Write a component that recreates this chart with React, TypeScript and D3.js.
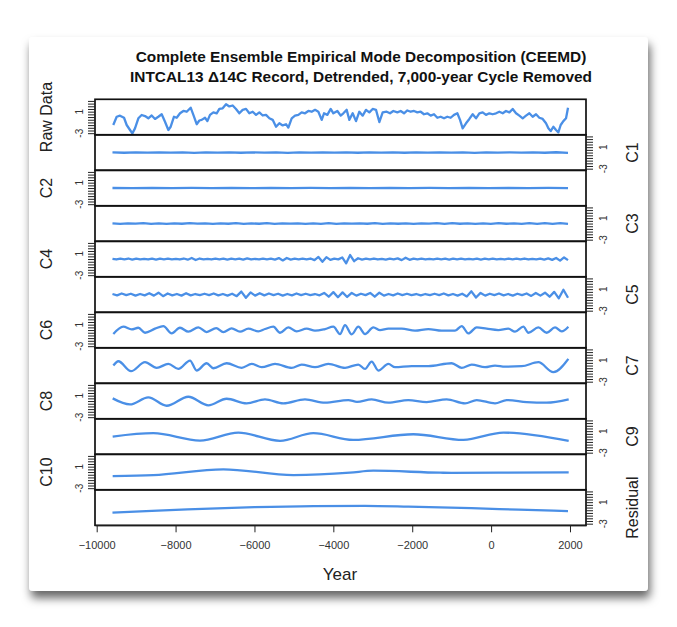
import React, { useRef, useEffect } from 'react';
import * as d3 from 'd3';

// title + labels
const titleLines = [
  'Complete Ensemble Empirical Mode Decomposition (CEEMD)',
  'INTCAL13 \u039414C Record, Detrended, 7,000-year Cycle Removed',
];
const panelNames = ['Raw Data', 'C1', 'C2', 'C3', 'C4', 'C5', 'C6', 'C7', 'C8', 'C9', 'C10', 'Residual'];
const yearTicks = [-10000, -8000, -6000, -4000, -2000, 0, 2000];
const yTicks = [-3, -2.5, -2, -1.5, -1, -0.5, 0, 0.5, 1, 1.5, 2, 2.5, 3];
const yTickLabels = [1, -3];

// first / last year of the record (evenly sampled components use these)
const startYear = -9600;
const endYear = 1950;

// raw record: [year, value]
const rawData: [number, number][] = [
  [-9580, -1.48], [-9493, 0.06], [-9409, 0.26], [-9307, -0.13], [-9240, -1.48], [-9155, -2.41], [-9096, -3.03],
  [-9029, -2.1], [-8944, -0.23], [-8860, 0.38], [-8775, 0.18], [-8691, -0.23], [-8606, 0.29], [-8521, -0.35],
  [-8437, 0.06], [-8352, 0.52], [-8268, -0.87], [-8183, -2.41], [-8124, -1.8], [-8040, 0.06], [-7972, -0.13],
  [-7887, 0.7], [-7803, 1.13], [-7718, 0.99], [-7617, 1.74], [-7549, 0.41], [-7465, -1.33], [-7397, -0.64],
  [-7338, -0.52], [-7254, -0.13], [-7194, -0.75], [-7127, 0.41], [-7042, 0.87], [-6958, 0.7], [-6890, 1.51],
  [-6806, 1.63], [-6721, 2.38], [-6637, 1.97], [-6552, 2.15], [-6468, 1.51], [-6383, 0.7], [-6299, 1.34],
  [-6214, 1.51], [-6130, 0.7], [-6045, 0.99], [-5960, 0.41], [-5876, 0.87], [-5791, 0.29], [-5707, 0.41],
  [-5622, -0.23], [-5538, -0.52], [-5453, -1.8], [-5369, -1.16], [-5284, -1.56], [-5200, -1.33], [-5141, -1.97],
  [-5056, -0.23], [-4972, 0.26], [-4887, 0.41], [-4803, 0.87], [-4718, 0.7], [-4634, 1.13], [-4549, 0.99],
  [-4464, 1.34], [-4380, 0.99], [-4295, -0.52], [-4236, 0.7], [-4152, 0.41], [-4067, 1.51], [-4000, 0.7],
  [-3898, 1.13], [-3814, 0.26], [-3746, 0.7], [-3662, 1.34], [-3594, -0.52], [-3510, 0.7], [-3425, -0.75],
  [-3341, 0.99], [-3256, 0.26], [-3172, 1.34], [-3087, 0.87], [-3003, 1.51], [-2918, 1.34], [-2834, -0.93],
  [-2749, 0.87], [-2648, 0.99], [-2563, 0.7], [-2479, 1.13], [-2377, 0.87], [-2293, 1.13], [-2208, 0.7],
  [-2124, 1.22], [-2039, 0.99], [-1955, 1.13], [-1870, 0.87], [-1786, 0.99], [-1701, 0.52], [-1617, 0.7],
  [-1532, 0.26], [-1448, 0.52], [-1363, -0.13], [-1279, 0.06], [-1194, -0.23], [-1110, 0.06], [-1025, -0.13],
  [-940, 0.41], [-856, 0.7], [-788, -0.52], [-721, -2.1], [-636, -1.16], [-552, -0.35], [-467, 0.52],
  [-383, -0.23], [-298, 0.7], [-214, 0.87], [-129, 0.41], [-45, 0.7], [40, 0.52], [125, 0.7], [209, 0.99],
  [294, 0.7], [378, 1.13], [463, 0.87], [547, 1.51], [632, 0.7], [716, 0.26], [801, -0.23], [885, 0.26],
  [970, 0.7], [1054, 0.06], [1139, 0.52], [1223, -0.13], [1308, -0.35], [1392, -1.16], [1452, -2.1],
  [1511, -2.61], [1578, -1.8], [1646, -2.41], [1705, -2.84], [1764, -1.48], [1832, -0.75], [1900, -0.23],
  [1950, 1.74],
];

// high-frequency modes, evenly sampled from startYear to endYear
const c1Values = [
  0.03, -0.04, 0.02, -0.03, 0.05, -0.02, 0.03, -0.05, 0.04, -0.02, 0.03, -0.04, 0.02, -0.03, 0.04, -0.05,
  0.03, -0.02, 0.04, -0.03, 0.02, -0.04, 0.05, -0.03, 0.02, -0.04, 0.03, -0.02, 0.04, -0.03, 0.02, -0.05,
  0.03, -0.02, 0.04, -0.03, 0.05, -0.04, 0.06, -0.05,
];
const c2Values = [
  0.01, -0.02, 0.01, -0.01, 0.02, -0.01, 0.01, -0.02, 0.01, -0.01, 0.02, -0.01, 0.01, -0.02, 0.01, -0.01,
  0.02, -0.01, 0.01, -0.02, 0.01, -0.01, 0.02, -0.01,
];
const c3Values = [
  0.04, -0.06, 0.05, -0.03, 0.06, -0.05, 0.03, -0.07, 0.05, -0.04, 0.06, -0.03, 0.04, -0.06, 0.05, -0.04,
  0.07, -0.05, 0.03, -0.04, 0.06, -0.05, 0.04, -0.03, 0.05, -0.06, 0.04, -0.05, 0.08, -0.06, 0.04, -0.03,
  0.05, -0.04, 0.06, -0.05, 0.03, -0.04, 0.05, -0.06, 0.04, -0.03, 0.06, -0.05, 0.07, -0.04, 0.05, -0.06,
  0.04, -0.05, 0.06, -0.04, 0.05, -0.06, 0.07, -0.05, 0.06, -0.08, 0.07, -0.06,
];
const c4Values = [
  0.05, -0.08, 0.06, -0.05, 0.1, -0.12, 0.08, -0.06, 0.05, -0.08,
  0.06, -0.1, 0.08, -0.05, 0.07, -0.06, 0.05, -0.08, 0.1, -0.12,
  0.2, -0.18, 0.1, -0.06, 0.05, -0.08, 0.06, -0.05, 0.08, -0.1,
  0.06, -0.05, 0.08, -0.1, 0.12, -0.08, 0.05, -0.06, 0.08, -0.05,
  0.06, -0.1, 0.18, -0.25, 0.2, -0.1, 0.06, -0.05, 0.08, -0.06,
  0.1, -0.2, 0.4, -0.5, 0.35, -0.15, 0.08, -0.06, 0.3, -0.8,
  0.75, -0.4, 0.15, -0.1, 0.08, -0.06, 0.1, -0.08, 0.05, -0.1,
  0.08, -0.06, 0.12, -0.2, 0.25, -0.15, 0.08, -0.05, 0.06, -0.08,
  0.05, -0.06, 0.08, -0.05, 0.06, -0.1, 0.08, -0.05, 0.06, -0.08,
  0.05, -0.06, 0.08, -0.1, 0.06, -0.05, 0.08, -0.06, 0.05, -0.08,
  0.06, -0.05, 0.08, -0.06, 0.1, -0.08, 0.05, -0.06, 0.08, -0.1,
  0.12, -0.15, 0.2, -0.3, 0.3, -0.2,
];
const c5Values = [
  0.1, -0.15, 0.2, -0.1, 0.15, -0.2, 0.1, -0.15, 0.25, -0.2,
  0.35, -0.3, 0.2, -0.15, 0.1, -0.2, 0.25, -0.15, 0.1, -0.1,
  0.15, -0.1, 0.2, -0.15, 0.1, -0.2, 0.15, -0.3, 0.55, -0.6,
  0.4, -0.2, 0.25, -0.15, 0.2, -0.1, 0.15, -0.2, 0.1, -0.15,
  0.2, -0.1, 0.15, -0.1, 0.1, -0.15, 0.3, -0.4, 0.45, -0.5,
  0.4, -0.45, 0.3, -0.2, 0.15, -0.1, 0.3, -0.4, 0.35, -0.2,
  0.1, -0.15, 0.2, -0.1, 0.15, -0.1, 0.1, -0.15, 0.1, -0.1,
  0.15, -0.1, 0.2, -0.15, 0.1, -0.2, 0.15, -0.35, 0.6, -0.55,
  0.3, -0.2, 0.15, -0.1, 0.2, -0.15, 0.1, -0.2, 0.15, -0.1,
  0.2, -0.25, 0.3, -0.2, 0.35, -0.4, 0.5, -0.7, 0.9, -0.6,
];

// lower-frequency modes: turning points [year, value]
const c6Points: [number, number][] = [
  [-9578, -0.74], [-9325, 0.62], [-9113, 0.12], [-8944, 0.43], [-8775, -0.5], [-8522, 0.25], [-8310, 0.74],
  [-8099, -0.62], [-7888, 0.43], [-7676, -0.31], [-7423, 0.5], [-7212, -0.37], [-6970, 0.37], [-6789, -0.37],
  [-6578, 0.31], [-6366, -0.31], [-6155, 0.25], [-5901, -0.25], [-5732, 0.19], [-5521, 0.62], [-5352, -0.5],
  [-5141, 0.5], [-4930, -0.25], [-4676, 0.25], [-4465, -0.12], [-4211, 0.19], [-4000, 0.62], [-3831, -0.74],
  [-3704, 0.93], [-3535, -0.8], [-3366, 0.62], [-3197, -0.74], [-2986, 0.5], [-2816, 0], [-2605, 0.25],
  [-2267, 0.25], [-1929, -0.12], [-1591, 0.19], [-1253, -0.12], [-915, -0.12], [-746, 0.74], [-577, -0.62],
  [-366, 0.5], [-112, 0.25], [184, 0], [437, 0.25], [606, -0.31], [818, 0.62], [945, -0.5], [1198, 0.5],
  [1409, -0.5], [1621, 0.5], [1790, -0.25], [1959, 0.62],
];
const c7Points: [number, number][] = [
  [-9578, 0], [-9451, 0.8], [-9130, -1.05], [-8775, 0.62], [-8479, -0.43], [-8184, 0.31], [-7930, -0.62],
  [-7634, 0.93], [-7465, -0.93], [-7212, 0.43], [-7042, -0.5], [-6705, 0.43], [-6324, -0.43], [-6071, 0.31],
  [-5817, -0.31], [-5479, 0.31], [-5056, -0.43], [-4803, 0.19], [-4465, -0.31], [-4127, 0.31], [-3704, -0.43],
  [-3366, 0.19], [-3197, -0.62], [-3028, 0.74], [-2859, -0.93], [-2605, 0.31], [-2436, -0.31], [-2014, -0.12],
  [-1591, -0.12], [-999, 0.43], [-745, -0.43], [-492, 0.19], [-154, -0.31], [99, 0], [353, -0.19],
  [776, -0.12], [1198, 0.62], [1578, -1.24], [1959, 1.24],
];
const c8Points: [number, number][] = [
  [-9595, 0.5], [-9156, -0.62], [-8691, 0.68], [-8226, -0.87], [-7677, 0.8], [-7170, -0.8], [-6705, 0.43],
  [-6198, -0.43], [-5733, 0.31], [-5268, -0.43], [-4719, 0.31], [-4212, -0.31], [-3620, 0.19], [-3400, -0.15],
  [-3028, 0.31], [-2605, -0.31], [-2100, 0.19], [-1634, -0.19], [-1126, 0.31], [-661, -0.43], [-366, 0.19],
  [99, -0.43], [395, 0.19], [902, -0.19], [1409, -0.31], [1967, 0.31],
];
const c9Points: [number, number][] = [
  [-9595, 0], [-8564, 0.62], [-7381, -0.74], [-6409, 0.74], [-5352, -0.8], [-4507, 0.62], [-3500, -0.62],
  [-1972, 0.43], [-704, -0.62], [311, 0.74], [1967, -0.8],
];
const c10Points: [number, number][] = [
  [-9595, -0.74], [-8564, -0.56], [-6789, 0.5], [-5014, -0.56], [-3578, -0.12], [-2986, 0.25], [-1295, -0.12],
  [-1000, -0.15], [200, -0.1], [1967, -0.06],
];
const residualPoints: [number, number][] = [
  [-9600, -0.96], [-8600, -0.62], [-7700, -0.33], [-6000, 0.08], [-4500, 0.28], [-3200, 0.32], [-2100, 0.18],
  [-500, -0.12], [700, -0.4], [1950, -0.65],
];

const evenly = (values: number[]): [number, number][] => {
  const t = d3.scaleLinear().domain([0, values.length - 1]).range([startYear, endYear]);
  return values.map((v, i) => [t(i), v]);
};

const Chart = () => {
  const chartRef = useRef<SVGSVGElement | null>(null);

  useEffect(() => {
    const svg = d3.select(chartRef.current);
    svg.selectAll('*').remove();

    const font = '"Liberation Sans", Arial, Helvetica, sans-serif';
    const lineColor = '#4a8fe6';
    const left = 95;
    const right = 586;
    const top = 99.3;
    const panelH = 35.5;

    // card with drop shadow
    const defs = svg.append('defs');
    const f = defs.append('filter').attr('id', 'shadow')
      .attr('x', '-10%').attr('y', '-10%').attr('width', '120%').attr('height', '125%');
    f.append('feDropShadow').attr('dx', 2).attr('dy', 7).attr('stdDeviation', 5)
      .attr('flood-color', '#000').attr('flood-opacity', 0.6);
    svg.append('rect')
      .attr('x', 29).attr('y', 37).attr('width', 619).attr('height', 554).attr('rx', 4)
      .attr('fill', '#fff').attr('filter', 'url(#shadow)');

    const x = d3.scaleLinear().domain([-10043, 2406]).range([left, right]);

    const series: { pts: [number, number][]; curve: d3.CurveFactory }[] = [
      { pts: rawData, curve: d3.curveLinear },
      { pts: evenly(c1Values), curve: d3.curveLinear },
      { pts: evenly(c2Values), curve: d3.curveLinear },
      { pts: evenly(c3Values), curve: d3.curveLinear },
      { pts: evenly(c4Values), curve: d3.curveLinear },
      { pts: evenly(c5Values), curve: d3.curveLinear },
      { pts: c6Points, curve: d3.curveMonotoneX },
      { pts: c7Points, curve: d3.curveMonotoneX },
      { pts: c8Points, curve: d3.curveMonotoneX },
      { pts: c9Points, curve: d3.curveMonotoneX },
      { pts: c10Points, curve: d3.curveMonotoneX },
      { pts: residualPoints, curve: d3.curveMonotoneX },
    ];

    series.forEach((s, i) => {
      const pTop = top + i * panelH;
      const y = d3.scaleLinear().domain([-3.3, 3.3]).range([pTop + panelH, pTop]);
      const g = svg.append('g');

      const line = d3.line<[number, number]>()
        .x(d => x(d[0]))
        .y(d => y(d[1]))
        .curve(s.curve);
      g.append('path')
        .attr('d', line(s.pts))
        .attr('fill', 'none')
        .attr('stroke', lineColor)
        .attr('stroke-width', 2.3)
        .attr('stroke-linejoin', 'round');

      g.append('rect')
        .attr('x', left).attr('y', pTop).attr('width', right - left).attr('height', panelH)
        .attr('fill', 'none').attr('stroke', '#111').attr('stroke-width', 1.7);

      // alternating y axis sides
      const onLeft = i % 2 === 0;
      const axis = (onLeft ? d3.axisLeft(y) : d3.axisRight(y))
        .tickValues(yTicks).tickSize(7).tickFormat(() => '');
      const ag = g.append('g')
        .attr('transform', `translate(${onLeft ? left : right},0)`)
        .call(axis);
      ag.select('.domain').remove();
      ag.selectAll('line').attr('stroke', '#222').attr('stroke-width', 1);

      const lx = onLeft ? 83.5 : 607;
      yTickLabels.forEach(v => {
        g.append('text')
          .attr('x', lx).attr('y', y(v))
          .attr('transform', `rotate(-90,${lx},${y(v)})`)
          .attr('text-anchor', 'middle')
          .attr('font-family', font).attr('font-size', 10).attr('fill', '#333')
          .text(v);
      });

      const nx = onLeft ? 52.5 : 638;
      const ny = pTop + panelH / 2;
      g.append('text')
        .attr('x', nx).attr('y', ny)
        .attr('transform', `rotate(-90,${nx},${ny})`)
        .attr('text-anchor', 'middle')
        .attr('font-family', font).attr('font-size', 16).attr('fill', '#222')
        .text(panelNames[i]);
    });

    // x axis
    const bottom = top + panelH * panelNames.length;
    const xa = svg.append('g')
      .attr('transform', `translate(0,${bottom})`)
      .call(d3.axisBottom(x).tickValues(yearTicks).tickSize(7).tickSizeOuter(0).tickPadding(8.4).tickFormat(d3.format('d')));
    xa.select('.domain').attr('stroke', '#222');
    xa.selectAll('line').attr('stroke', '#222');
    xa.selectAll('text').attr('font-family', font).attr('font-size', 11).attr('fill', '#333');

    svg.append('text')
      .attr('x', 340).attr('y', 580)
      .attr('text-anchor', 'middle')
      .attr('font-family', font).attr('font-size', 17).attr('fill', '#222')
      .text('Year');

    titleLines.forEach((t, i) => {
      svg.append('text')
        .attr('x', 361).attr('y', 62 + i * 20)
        .attr('text-anchor', 'middle')
        .attr('font-family', font).attr('font-size', 15.4).attr('font-weight', 'bold').attr('fill', '#111')
        .text(t);
    });
  }, []);

  return (
    <svg ref={chartRef} width={677} height={627}
      style={{ position: 'absolute', left: 0, top: 0, background: '#fff' }} />
  );
};

export default function App() {
  return <Chart />;
}
